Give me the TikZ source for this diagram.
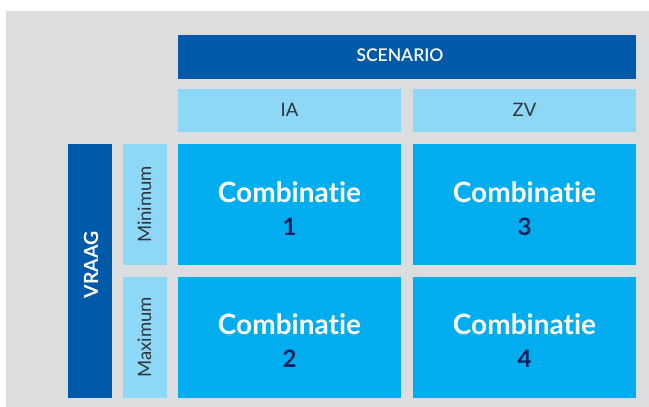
\documentclass[tikz,border=0pt]{standalone}
\usepackage{fontspec}
\setmainfont{Lato}[RawFeature={-liga}]
\newfontfamily\latosemi{Lato Semibold}[RawFeature={-liga}]
\definecolor{bggray}{HTML}{DCDDDF}
\definecolor{darkblue}{HTML}{0059A9}
\definecolor{lightblue}{HTML}{8DD7F7}
\definecolor{cyanbox}{HTML}{00ADEE}
\definecolor{navy}{HTML}{0A1F5C}
\definecolor{labelgray}{HTML}{30353A}
\begin{document}
\begin{tikzpicture}[x=1pt,y=-1pt,
  headtext/.style={text=white, font=\latosemi\fontsize{17.5}{20}\selectfont},
  subtext/.style={text=labelgray, font=\fontsize{18.5}{21}\selectfont},
  combtext/.style={text=white, font=\fontsize{28}{30}\selectfont\bfseries},
  numtext/.style={text=navy, font=\fontsize{24}{26}\selectfont\bfseries}]
\useasboundingbox (0,0) rectangle (649,407);
\fill[white] (0,0) rectangle (649,407);
\fill[bggray] (6,11) rectangle (649,407);
% boxes
\fill[darkblue] (178,35) rectangle (636,78.5);
\fill[lightblue] (178,89) rectangle (400.5,132);
\fill[lightblue] (412.5,89) rectangle (636,132);
\fill[darkblue] (68,144) rectangle (112,397.5);
\fill[lightblue] (123,144) rectangle (167,265);
\fill[lightblue] (123,277) rectangle (167,397.5);
\fill[cyanbox] (178,144) rectangle (400.5,265);
\fill[cyanbox] (412.5,144) rectangle (636,265);
\fill[cyanbox] (178,277) rectangle (400.5,397.5);
\fill[cyanbox] (412.5,277) rectangle (636,397.5);
% texts
\node[headtext] (scen) at (400,55) {SCENARIO};
\node[subtext] (ia) at (289.5,109.5) {IA};
\node[subtext] (zv) at (524.5,109.5) {ZV};
\node[headtext, font=\fontsize{19.5}{22}\selectfont\bfseries, rotate=90] (vraag) at (91,265) {VRAAG};
\node[subtext, rotate=90] (min) at (144.5,204.5) {Minimum};
\node[subtext, rotate=90] (max) at (144.5,337.5) {Maximum};
\node[combtext] (c1) at (289.5,192.5) {Combinatie};
\node[numtext] (n1) at (289.5,227) {1};
\node[combtext] (c3) at (524.5,192.5) {Combinatie};
\node[numtext] (n3) at (524.5,227) {3};
\node[combtext] (c2) at (289.5,324.5) {Combinatie};
\node[numtext] (n2) at (289.5,359) {2};
\node[combtext] (c4) at (524.5,324.5) {Combinatie};
\node[numtext] (n4) at (524.5,359) {4};
\end{tikzpicture}
\end{document}
